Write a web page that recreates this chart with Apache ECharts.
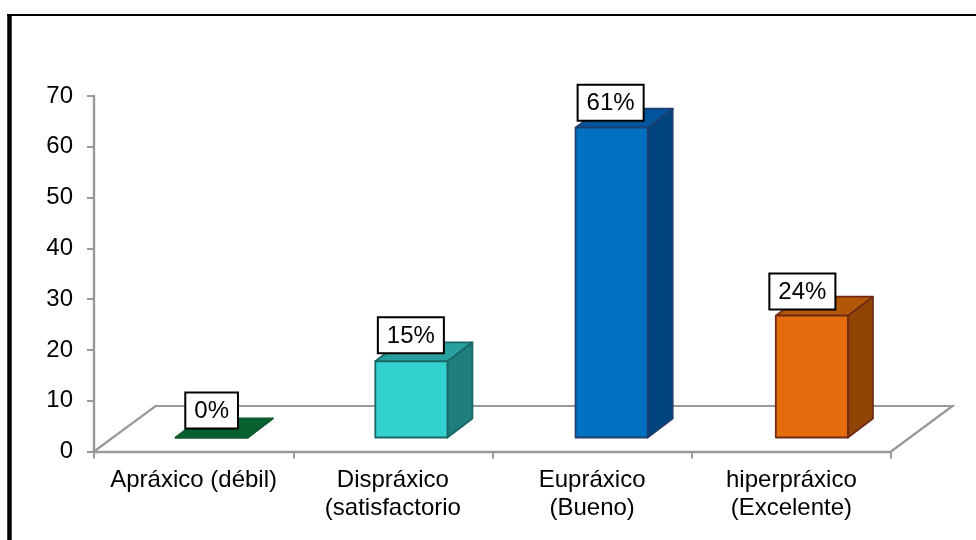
<!DOCTYPE html>
<html>
<head>
<meta charset="utf-8">
<style>html,body{margin:0;padding:0;background:#fff}#chart{width:976px;height:540px}</style>
<script src="https://cdn.jsdelivr.net/npm/echarts@6/dist/echarts.min.js"></script>
</head>
<body>
<div id="chart"></div>
<script>
// Praxis levels and their share of the group, in percent
const categories = ['Apráxico (débil)', 'Dispráxico\n(satisfactorio', 'Eupráxico\n(Bueno)', 'hiperpráxico\n(Excelente)'];
const percentages = [0, 15, 61, 24];
const yTicks = { min: 0, max: 70, step: 10 };

// Face colours per bar: front, top, side, outline
const faces = [
  ['#006633', '#066030', '#0A4F26', '#0C5A2C'],
  ['#33D1CF', '#28A09E', '#1F7F7D', '#1A6767'],
  ['#0070C0', '#00559B', '#00447F', '#1E3F70'],
  ['#E56C0C', '#B25607', '#904505', '#6E2A14']
];

// Oblique projection used for the pseudo-3D floor and bars
const floorDepth = [61.5, -45.5];
const barInset = [18.5, -14];
const barDepth = [25, -19];
const barRatio = 0.362;
const barShift = [-0.5, 0, 1, 2];
const labelShift = [0, -0.5, -1, -9.5];
const labelGap = [10, 9, 8, 7];
const GRAY = '#999999';
const FONT = '"Liberation Sans", Arial, sans-serif';

const chart = echarts.init(document.getElementById('chart'), null, { renderer: 'canvas' });

function renderFloor(params, api) {
  const g = params.coordSys;
  const x0 = g.x, x1 = g.x + g.width, y = g.y + g.height;
  return {
    type: 'polyline',
    shape: { points: [[x0, y], [x0 + floorDepth[0], y + floorDepth[1]], [x1 + floorDepth[0], y + floorDepth[1]], [x1, y]] },
    style: { stroke: GRAY, lineWidth: 2.2, fill: null }
  };
}

function renderBar(params, api) {
  const i = api.value(0);
  const base = api.coord([i, 0]);
  const top = api.coord([i, api.value(1)]);
  const w = api.size([1, 0])[0] * barRatio;
  const l = base[0] + barInset[0] + barShift[i] - w / 2, r = l + w;
  const yb = base[1] + barInset[1], yt = top[1] + barInset[1];
  const dx = barDepth[0], dy = barDepth[1];
  const c = faces[i];
  const face = (pts, fill) => ({
    type: 'polygon',
    shape: { points: pts },
    style: { fill: fill, stroke: c[3], lineWidth: 1.8, lineJoin: 'round' }
  });
  return {
    type: 'group',
    children: [
      face([[r, yb], [r + dx, yb + dy], [r + dx, yt + dy], [r, yt]], c[2]),
      face([[l, yt], [l + dx, yt + dy], [r + dx, yt + dy], [r, yt]], c[1]),
      face([[l, yb], [r, yb], [r, yt], [l, yt]], c[0]),
      {
        type: 'text',
        z2: 10,
        style: {
          x: l + w / 2 + labelShift[i],
          y: yt - labelGap[i],
          text: api.value(1) + '%',
          align: 'center',
          verticalAlign: 'bottom',
          font: '24px ' + FONT,
          fill: '#000',
          backgroundColor: '#fff',
          borderColor: '#000',
          borderWidth: 2,
          padding: [6, 8, 4, 8]
        }
      }
    ]
  };
}

chart.setOption({
  animation: false,
  backgroundColor: '#fff',
  grid: { left: 94, right: 85, top: 96, bottom: 88.5 },
  xAxis: {
    type: 'category',
    data: categories,
    axisLine: { lineStyle: { color: GRAY, width: 2.4 } },
    axisTick: { show: true, length: 7, alignWithLabel: false, lineStyle: { color: GRAY, width: 2 } },
    axisLabel: { interval: 0, color: '#000', fontFamily: FONT, fontSize: 24, lineHeight: 28, margin: 15, verticalAlign: 'top' }
  },
  yAxis: {
    type: 'value',
    min: yTicks.min,
    max: yTicks.max,
    interval: yTicks.step,
    splitLine: { show: false },
    axisLine: { show: true, lineStyle: { color: GRAY, width: 2.4 } },
    axisTick: { show: true, length: 7, lineStyle: { color: GRAY, width: 2 } },
    axisLabel: { color: '#000', fontFamily: FONT, fontSize: 24, margin: 21, padding: [3, 0, 0, 0] }
  },
  series: [
    { type: 'custom', coordinateSystem: 'cartesian2d', silent: true, z: 1, renderItem: renderFloor, data: [[0, 0]], clip: false },
    { type: 'custom', coordinateSystem: 'cartesian2d', silent: true, z: 2, renderItem: renderBar, data: percentages.map((v, i) => [i, v]), clip: false }
  ],
  graphic: [
    { type: 'line', silent: true, shape: { x1: 9.5, y1: 14, x2: 9.5, y2: 540 }, style: { stroke: '#000', lineWidth: 4.5 } },
    { type: 'line', silent: true, shape: { x1: 7, y1: 15, x2: 976, y2: 15 }, style: { stroke: '#000', lineWidth: 2 } }
  ]
});
</script>
</body>
</html>
